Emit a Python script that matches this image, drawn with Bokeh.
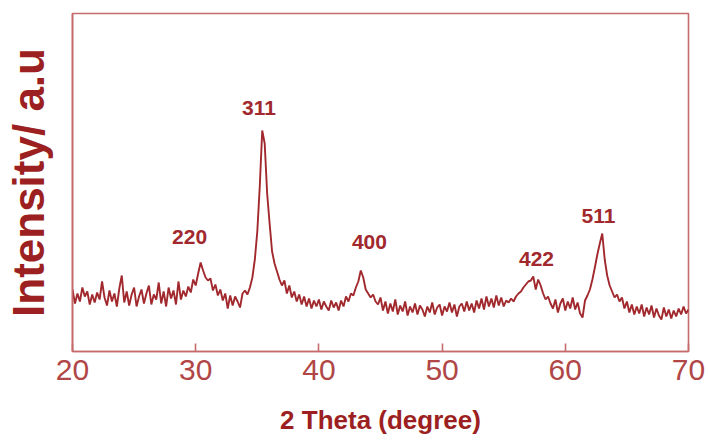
from bokeh.plotting import figure
from bokeh.models import Range1d, FixedTicker
from bokeh.core.properties import value
from bokeh.embed import file_html
from bokeh.resources import INLINE

# Intensity (a.u.) sampled every 0.2 degree from 20.0 to 70.0
seg_20_288 = [62, 48, 58, 50, 64, 55, 60, 47, 57, 49,
              59, 52, 70, 54, 46, 61, 50, 58, 45, 63,
              76, 49, 60, 46, 57, 64, 45, 55, 62, 48,
              58, 66, 47, 57, 52, 69, 48, 60, 45, 64,
              53, 61, 47, 70, 52]
seg_29_342 = [61, 55, 65, 59, 72, 66, 78, 89, 81, 74,
              71, 73, 61, 67, 56, 62, 51, 58, 43, 56,
              46, 55, 50, 44, 58, 61, 57]
seg_344_370 = [64, 74, 92, 120, 165, 221, 208, 158, 128, 100, 88, 80, 72, 66]
seg_372_424 = [71, 58, 66, 54, 60, 50, 57, 47, 55, 45,
               53, 43, 51, 45, 52, 42, 50, 45, 41, 51,
               44, 49, 41, 51, 45, 55, 50]
seg_426_446 = [58, 56, 64, 70, 81, 74, 62, 58, 54, 57, 50]
seg_448_550 = [47, 54, 41, 50, 38, 48, 40, 52, 37, 46,
               40, 50, 36, 45, 39, 48, 37, 46, 42, 35,
               45, 39, 49, 37, 44, 47, 36, 45, 40, 49,
               39, 47, 35, 45, 48, 40, 50, 41, 48, 39,
               51, 43, 53, 42, 55, 45, 53, 44, 56, 46,
               54, 45]
seg_552_588 = [51, 49, 53, 50, 55, 58, 60, 64, 67, 70,
               71, 75, 62, 72, 66, 58, 52, 55, 48]
seg_590_616 = [43, 52, 39, 48, 53, 41, 50, 43, 54, 42, 49, 38, 34, 51]
seg_618_644 = [56, 62, 72, 84, 97, 108, 118, 92, 76, 66, 60, 54, 57, 50]
seg_646_700 = [54, 43, 50, 39, 47, 37, 45, 38, 47, 35,
               44, 37, 46, 34, 43, 36, 32, 44, 35, 42,
               33, 41, 35, 43, 37, 45, 38, 42]

intensity = (seg_20_288 + seg_29_342 + seg_344_370 + seg_372_424 + seg_426_446
             + seg_448_550 + seg_552_588 + seg_590_616 + seg_618_644 + seg_646_700)
two_theta = [round(20.0 + 0.2 * i, 1) for i in range(len(intensity))]

peak_labels = ["220", "311", "400", "422", "511"]
peak_label_theta = [29.5, 35.14, 44.1, 57.66, 62.7]
peak_label_int = [115, 243.5, 110, 92.4, 136]

x_ticks = [20, 30, 40, 50, 60, 70]

LINE = "#a1292e"
FRAME = "#c56b6b"
TICKTXT = "#b04646"
TITLE = "#9c1f22"

p = figure(width=708, height=441, output_backend="svg", toolbar_location=None,
           x_range=Range1d(20, 70), y_range=Range1d(0, 338),
           min_border_left=72, min_border_right=20, min_border_top=13, min_border_bottom=90)
p.background_fill_color = "white"
p.border_fill_color = "white"
p.outline_line_color = FRAME
p.outline_line_width = 1.6
p.xgrid.visible = False
p.ygrid.visible = False

p.line(two_theta, intensity, line_color=LINE, line_width=1.9)

p.text(x=peak_label_theta, y=peak_label_int, text=peak_labels,
       text_font=value("Liberation Sans"), text_font_size="21px",
       text_font_style="bold", text_color=LINE, text_align="center",
       text_baseline="middle")

xa = p.xaxis[0]
xa.ticker = FixedTicker(ticks=x_ticks)
xa.axis_line_color = FRAME
xa.axis_line_width = 1.6
xa.major_tick_in = 8
xa.major_tick_out = 0
xa.major_tick_line_color = FRAME
xa.major_tick_line_width = 1.6
xa.minor_tick_line_color = None
xa.major_label_text_font = "Liberation Sans"
xa.major_label_text_font_size = "30px"
xa.major_label_text_color = TICKTXT
xa.major_label_standoff = 8
xa.axis_label = "2 Theta (degree)"
xa.axis_label_text_font = "Liberation Sans"
xa.axis_label_text_font_size = "26px"
xa.axis_label_text_font_style = "bold"
xa.axis_label_text_color = TITLE
xa.axis_label_standoff = 22

ya = p.yaxis[0]
ya.ticker = FixedTicker(ticks=[])
ya.axis_line_color = FRAME
ya.axis_line_width = 1.6
ya.major_tick_line_color = None
ya.minor_tick_line_color = None
ya.axis_label = "Intensity/ a.u"
ya.axis_label_text_font = "Liberation Sans"
ya.axis_label_text_font_size = "44px"
ya.axis_label_text_font_style = "bold"
ya.axis_label_text_color = TITLE
ya.axis_label_standoff = 20

open("out.html", "w").write(file_html(p, INLINE))
